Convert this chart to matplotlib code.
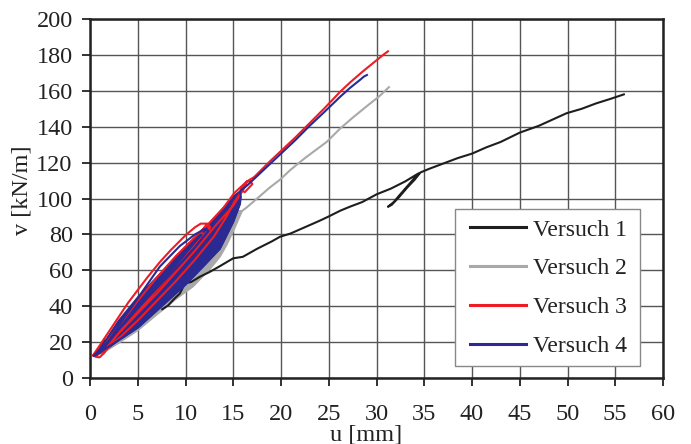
import numpy as np
import matplotlib
matplotlib.use("Agg")
import matplotlib.pyplot as plt
from matplotlib.patches import Rectangle

nan = np.nan

# ---- Versuch 1 (black) ----
v1_u = [0.4, 0.8, 1.1, 1.5, nan, 7.57, 8.2, 8.8, 9.4, 9.95, 10.6, 11.5, 12.5, 13.5, 15.0, 16.0, 17.5,
        19.0, 19.9, 21.0, 22.5, 24.0, 25.0, 26.2, 27.2, 28.5, 30.0, 31.5, 33.0, 34.4, 33.5, 32.6, 31.8,
        31.2, 31.6, 32.4, 33.2, 34.0, 34.6, 35.5, 37.0, 38.5, 40.0, 41.5, 43.0, 45.0, 47.0, 49.9, 51.5,
        53.0, 54.5, 55.9]
v1_v = [12.5, 13.0, 17.0, 21.5, nan, 38.3, 40.5, 44.0, 47.0, 52.8, 53.5, 56.4, 59.0, 62.0, 66.7, 67.5, 72.0,
        76.0, 78.7, 80.5, 84.0, 87.5, 90.0, 93.2, 95.4, 98.0, 102.3, 105.5, 109.5, 114.0, 108.5, 103.0, 98.0,
        95.4, 96.5, 101.0, 106.0, 110.5, 114.5, 116.5, 119.5, 122.5, 125.0, 128.5, 131.5, 136.7, 140.5, 147.5, 150.0,
        153.0, 155.5, 158.0]

# ---- Versuch 2 (grey): dense cycle band + final loading branch ----
v2_band_lo_u = [0.4, 1.5, 3.0, 5.0, 7.5, 9.0, 10.8, 12.6, 13.6, 14.3, 15.1, 15.9]
v2_band_lo_v = [12.0, 14.5, 19.5, 26.5, 37.5, 44.0, 51.0, 61.0, 67.5, 74.0, 83.0, 92.7]
v2_band_hi_u = [15.9, 15.2, 14.0, 12.5, 10.0, 7.5, 5.0, 3.0, 1.5, 0.4]
v2_band_hi_v = [93.0, 93.0, 84.0, 73.0, 59.0, 46.0, 33.0, 24.0, 17.0, 12.0]
v2_u = [15.2, 15.9, 16.4, 17.5, 18.8, 19.9, 21.0, 22.5, 24.8, 26.2, 27.5, 29.0, 30.3, 31.3]
v2_v = [93.0, 93.0, 95.0, 100.0, 106.0, 110.5, 116.0, 122.5, 131.6, 139.0, 145.0, 151.5, 157.0, 162.0]

# ---- Versuch 3 (red): hysteresis cycles + final loading branch ----
v3_u = [0.3, 1.0, 2.0, 3.0, 4.0, 5.0, 6.0, 7.3, 8.5, 10.0, 11.0, 11.6, 12.3, 12.6, 12.0, 11.6, 12.2, 12.5,
        11.0, 9.0, 7.0, 5.0, 3.0, 1.5, 1.0, 0.6, 0.4,
        1.5, 3.0, 5.0, 7.0, 9.0, 11.0, 13.0, 14.3, 15.1, 16.0, 16.4, 16.8, 17.0, 16.2, 15.8, 16.4,
        15.0, 13.0, 11.0, 9.0, 7.0, 5.0, 3.0, 1.5, 0.6,
        1.5, 3.0, 5.0, 7.0, 9.0, 11.0, 12.6, 14.0, 15.1, 16.4, 17.2, 18.8, 19.9, 21.5, 23.0, 24.5,
        26.2, 27.2, 28.5, 30.0, 30.7, 31.2]
v3_v = [12.5, 18.0, 26.0, 34.0, 42.0, 49.0, 56.0, 64.5, 71.5, 79.5, 84.0, 86.0, 86.0, 84.0, 80.0, 81.0, 85.5, 83.0,
        74.0, 61.0, 49.0, 37.0, 25.0, 14.0, 11.5, 11.8, 13.0,
        15.0, 22.0, 32.0, 43.0, 54.0, 66.0, 79.0, 90.0, 98.0, 105.0, 109.4, 109.6, 108.0, 103.5, 105.0, 108.0,
        96.0, 84.0, 71.0, 59.0, 47.0, 36.0, 25.0, 16.5, 12.5,
        18.0, 29.0, 43.0, 56.0, 68.0, 78.5, 87.0, 95.0, 103.0, 109.4, 112.0, 120.5, 126.0, 134.0, 142.0, 150.0,
        159.5, 164.5, 170.5, 177.0, 180.0, 182.0]

# ---- Versuch 4 (blue): dense cycle band + loops + final loading branch ----
v4_band_lo_u = [0.4, 1.5, 3.0, 5.0, 7.5, 10.0, 12.0, 13.6, 15.0, 15.7]
v4_band_lo_v = [12.0, 15.0, 21.0, 28.0, 40.0, 52.0, 63.0, 72.0, 87.0, 97.0]
v4_band_hi_u = [15.7, 15.2, 14.0, 12.5, 10.0, 7.5, 5.0, 3.0, 1.5, 0.4]
v4_band_hi_v = [104.0, 102.0, 95.0, 86.0, 73.0, 59.0, 45.0, 32.0, 20.0, 12.5]
v4_u = [0.4, 2.0, 3.5, 5.2, 7.3, 9.4, 11.0, 12.0, 12.4,
        11.0, 9.0, 7.0, 5.0, 3.0, 1.5, 0.5,
        3.0, 5.0, 7.5, 10.0, 12.0, 13.6, 15.0, 15.7, 15.8, 15.7,
        16.5, 17.5, 18.8, 20.0, 21.5, 23.0, 24.5, 26.2, 27.2, 28.3, 28.7, 29.0]
v4_v = [12.5, 21.0, 33.0, 46.0, 62.0, 73.5, 80.0, 83.0, 82.0,
        73.0, 61.0, 50.0, 39.0, 27.0, 17.0, 12.5,
        21.0, 28.0, 40.0, 52.0, 63.0, 72.0, 87.0, 97.0, 101.0, 104.0,
        107.5, 112.5, 119.0, 125.0, 132.5, 140.5, 148.0, 156.7, 161.5, 166.2, 168.0, 168.8]

labels = ["Versuch 1", "Versuch 2", "Versuch 3", "Versuch 4"]
colors = ["#1e1e1e", "#a9a9a9", "#ee1c24", "#2a2a92"]

xticks = list(range(0, 61, 5))
yticks = list(range(0, 201, 20))

plt.rcParams['font.family'] = ['Liberation Serif', 'DejaVu Serif']
fig = plt.figure(figsize=(6.91, 4.44), dpi=100)
ax = fig.add_axes([90/691, 1-378/444, (663-90)/691, (378-19)/444])

def px_x(px):
    return (px - 90) / 573

def px_y(py):
    return (378 - py) / 359

# grey band
ax.fill(v2_band_lo_u + v2_band_hi_u, v2_band_lo_v + v2_band_hi_v, color=colors[1], lw=1.2, zorder=2)
ax.plot(v2_u, v2_v, color=colors[1], lw=1.5, zorder=2)
# black
ax.plot(v1_u, v1_v, color=colors[0], lw=1.5, zorder=3)
# blue band
ax.fill(v4_band_lo_u + v4_band_hi_u, v4_band_lo_v + v4_band_hi_v, color=colors[3], lw=1.2, zorder=4)
# red
ax.plot(v3_u, v3_v, color=colors[2], lw=1.5, zorder=5)
# blue lines
ax.plot(v4_u, v4_v, color=colors[3], lw=1.5, zorder=6)

handles = [plt.Line2D([], [], color=c, lw=2.2) for c in colors]

ax.set_xlim(0, 60)
ax.set_ylim(0, 200)
ax.set_xticks(xticks)
ax.set_yticks(yticks)
ax.grid(True, color="#555555", lw=1.0)
ax.set_axisbelow(True)
for s in ax.spines.values():
    s.set_linewidth(1.8)
    s.set_color("#222222")
ax.tick_params(axis='both', labelsize=17.5, colors="#222222", length=5.5, width=1.3)
ax.tick_params(axis='x', pad=13)
ax.tick_params(axis='y', pad=7)

ax.set_xlabel("u [mm]", fontsize=17.5, color="#222222")
ax.xaxis.set_label_coords(px_x(366), px_y(424))
ax.set_ylabel("v [kN/m]", fontsize=17.5, color="#222222")
ax.yaxis.set_label_coords(px_x(33), px_y(190))

# legend frame
frame = Rectangle((px_x(455), px_y(366)), 185/573, 157/359, transform=ax.transAxes,
                  facecolor="white", edgecolor="#888888", lw=1.0, zorder=9, clip_on=False)
ax.add_patch(frame)
leg = ax.legend(handles, labels, loc='upper left', bbox_to_anchor=(px_x(459.5), px_y(209)),
                borderaxespad=0, fontsize=17, frameon=False,
                handlelength=2.4, handletextpad=0.3, labelspacing=0.73, borderpad=0.43)
for t in leg.get_texts():
    t.set_color("#222222")
leg.set_zorder(10)

fig.savefig("out.png", dpi=100)
